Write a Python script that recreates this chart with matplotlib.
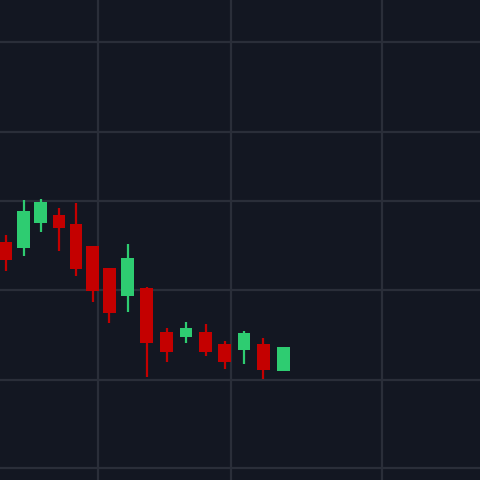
import matplotlib
matplotlib.use("Agg")
import matplotlib.pyplot as plt

# candle times (chart units) and OHLC prices
times = [0.6, 2.37, 4.07, 5.9, 7.6, 9.27, 10.93, 12.77, 14.67, 16.67, 18.6, 20.57, 22.47, 24.4, 26.33, 28.37]
opens = [23.77, 23.17, 25.73, 26.5, 25.6, 23.4, 21.23, 18.4, 19.17, 14.8, 14.27, 14.77, 13.6, 13.0, 13.6, 10.9]
highs = [24.5, 28.0, 28.1, 27.17, 27.73, 23.43, 21.23, 23.57, 19.3, 15.17, 15.77, 15.6, 13.93, 14.9, 14.17, 13.33]
lows = [20.93, 22.43, 24.83, 22.93, 20.4, 17.83, 15.67, 16.77, 10.27, 11.83, 13.67, 12.4, 11.1, 11.6, 10.07, 10.9]
closes = [22.0, 26.93, 27.83, 25.17, 21.07, 18.93, 16.67, 22.17, 13.67, 12.83, 15.23, 12.83, 11.77, 14.67, 11.0, 13.33]

# grid levels
price_grid = [1.2, 10.0, 19.0, 27.9, 34.8, 43.8]
time_grid = [9.8, 23.1, 38.2]

BG = "#131722"
GRID = "#2a2e39"
UP = "#2ecc71"
DOWN = "#c40000"

fig = plt.figure(figsize=(4.8, 4.8), dpi=100, facecolor=BG)
ax = fig.add_axes([0, 0, 1, 1])
ax.set_facecolor(BG)

for t, o, h, l, c in zip(times, opens, highs, lows, closes):
    color = UP if c >= o else DOWN
    ax.vlines(t, l, h, color=color, linewidth=1.6, zorder=3)
    ax.bar(t, abs(c - o), bottom=min(o, c), width=1.25, color=color, zorder=4, linewidth=0)

for p in price_grid:
    ax.axhline(p, color=GRID, linewidth=1.6, zorder=1)
for t in time_grid:
    ax.axvline(t, color=GRID, linewidth=1.6, zorder=1)

ax.set_xlim(0, 48)
ax.set_ylim(0, 48)
ax.set_xticks([])
ax.set_yticks([])
for s in ax.spines.values():
    s.set_visible(False)

fig.savefig("out.png", dpi=100, facecolor=BG)
